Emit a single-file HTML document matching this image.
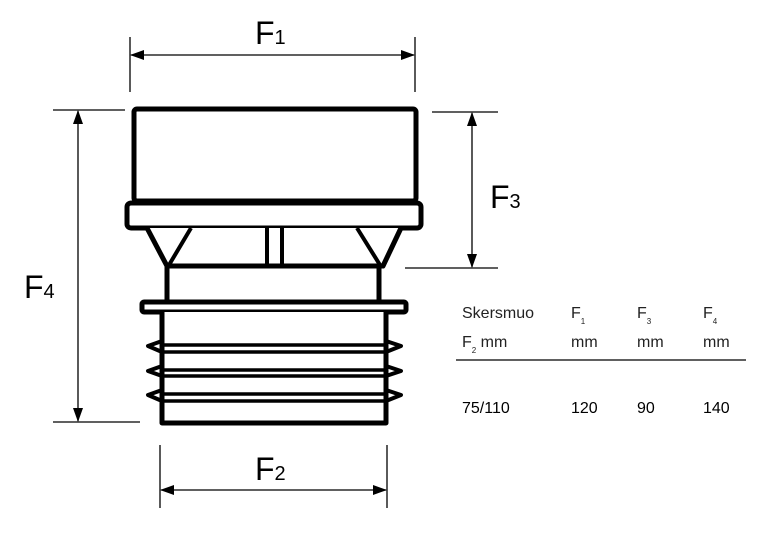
<!DOCTYPE html>
<html><head><style>body{margin:0;background:#fff}svg{display:block}</style></head><body>
<svg width="775" height="537" viewBox="0 0 775 537" xmlns="http://www.w3.org/2000/svg" font-family="Liberation Sans, sans-serif">
<defs><marker id="a" markerWidth="14" markerHeight="10" refX="13" refY="5" orient="auto-start-reverse" markerUnits="userSpaceOnUse"><path d="M0,0 L14,5 L0,10 Z" fill="#000"/></marker></defs>
<g stroke="#000" stroke-width="1.3" fill="none">
<line x1="130" y1="37" x2="130" y2="92"/><line x1="415" y1="37" x2="415" y2="92"/>
<line x1="131" y1="55" x2="414" y2="55" marker-start="url(#a)" marker-end="url(#a)"/>
<line x1="53" y1="110" x2="125" y2="110"/><line x1="53" y1="422" x2="140" y2="422"/>
<line x1="78" y1="111" x2="78" y2="421" marker-start="url(#a)" marker-end="url(#a)"/>
<line x1="432" y1="112" x2="498" y2="112"/><line x1="405" y1="268" x2="498" y2="268"/>
<line x1="472" y1="113" x2="472" y2="267" marker-start="url(#a)" marker-end="url(#a)"/>
<line x1="160" y1="445" x2="160" y2="508"/><line x1="387" y1="445" x2="387" y2="508"/>
<line x1="161" y1="490" x2="386" y2="490" marker-start="url(#a)" marker-end="url(#a)"/>
<line x1="456" y1="360" x2="746" y2="360"/>
</g>
<g stroke="#000" stroke-width="5" fill="#fff" stroke-linejoin="round">
<rect x="134" y="109" width="282" height="92" rx="3"/>
<rect x="127" y="203" width="294" height="25" rx="4"/>
<path d="M147,228 L167,266 L383,266 L401,228"/>
<path d="M167,266 L167,300 M379,266 L379,300" fill="none"/>
<path d="M191,228 L169,265 M357,228 L380,265 M267,228 L267,265 M282,228 L282,265" fill="none" stroke-width="4"/>
<rect x="142" y="302" width="264" height="10" rx="2"/>
<path d="M162,312 L162,423 L386,423 L386,312" />
<path d="M162,341 L148,346 L162,352 M386,341 L401,346 L386,352 M162,366 L148,371 L162,376 M386,366 L401,371 L386,376 M162,390 L148,395 L162,401 M386,390 L401,395 L386,401" fill="none" stroke-width="4"/>
<path d="M162,345 L386,345 M162,352 L386,352 M162,370 L386,370 M162,376 L386,376 M162,394 L386,394 M162,401 L386,401" fill="none" stroke-width="3.5"/>
</g>
<g fill="#000">
<text x="255" y="44" font-size="32">F<tspan font-size="20">1</tspan></text>
<text x="24" y="298" font-size="32">F<tspan font-size="20">4</tspan></text>
<text x="490" y="208" font-size="32">F<tspan font-size="20">3</tspan></text>
<text x="255" y="480" font-size="32">F<tspan font-size="20">2</tspan></text>
<g font-size="16" fill="#222">
<text x="462" y="318">Skersmuo</text>
<text x="571" y="318">F<tspan font-size="8" dy="6">1</tspan></text>
<text x="637" y="318">F<tspan font-size="8" dy="6">3</tspan></text>
<text x="703" y="318">F<tspan font-size="8" dy="6">4</tspan></text>
<text x="462" y="347">F<tspan font-size="8" dy="6">2</tspan><tspan dy="-6"> mm</tspan></text>
<text x="571" y="347">mm</text><text x="637" y="347">mm</text><text x="703" y="347">mm</text>
<text x="462" y="413" fill="#000">75/110</text>
<text x="571" y="413" fill="#000">120</text>
<text x="637" y="413" fill="#000">90</text>
<text x="703" y="413" fill="#000">140</text>
</g></g>
</svg></body></html>
